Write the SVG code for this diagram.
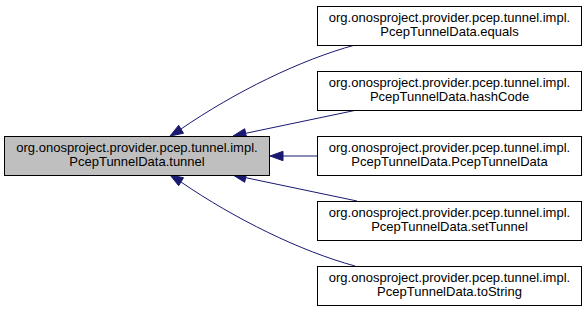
<svg xmlns="http://www.w3.org/2000/svg" width="587" height="312" viewBox="0 0 587 312">
  <style>
    .node rect { stroke: #000000; stroke-width: 1; }
    .plain rect { fill: #ffffff; }
    .focus rect { fill: #bfbfbf; }
    .node text { font-family: "Liberation Sans", Arial, Helvetica, sans-serif; font-size: 13px; fill: #000000; text-anchor: middle; }
    .edge path { fill: none; stroke: #191970; stroke-width: 1; }
    .edge polygon { fill: #191970; stroke: #191970; stroke-width: 1; }
  </style>
  <rect x="0" y="0" width="587" height="312" fill="#ffffff"/>

  <!-- called-by edges -->
  <g id="edges">
    <g class="edge" id="edge-equals">
      <path d="M355,45 C300,60 235,92 181,129"/>
      <polygon points="170,136 183.5,133.3 178.7,125.3"/>
    </g>
    <g class="edge" id="edge-hashCode">
      <path d="M357,110 L245.7,133.3"/>
      <polygon points="233,136 246.7,137.9 244.7,128.7"/>
    </g>
    <g class="edge" id="edge-ctor">
      <path d="M317,156 L283,156"/>
      <polygon points="270,156 283,151.3 283,160.7"/>
    </g>
    <g class="edge" id="edge-setTunnel">
      <path d="M357,201 L245.7,177.7"/>
      <polygon points="233,175 246.7,173.1 244.7,182.3"/>
    </g>
    <g class="edge" id="edge-toString">
      <path d="M355,266 C300,251 235,219 181,182"/>
      <polygon points="170,175 183.5,177.7 178.7,185.7"/>
    </g>
  </g>

  <!-- focus node -->
  <g class="node focus" id="node-tunnel">
    <rect x="4.5" y="136.5" width="265" height="39"/>
    <text x="137" y="152">org.onosproject.provider.pcep.tunnel.impl.</text>
    <text x="137" y="165.5">PcepTunnelData.tunnel</text>
  </g>

  <!-- callers -->
  <g class="node plain" id="node-equals">
    <rect x="317.5" y="6.5" width="264" height="39"/>
    <text x="449.5" y="22">org.onosproject.provider.pcep.tunnel.impl.</text>
    <text x="449.5" y="35.5">PcepTunnelData.equals</text>
  </g>
  <g class="node plain" id="node-hashCode">
    <rect x="317.5" y="71.5" width="264" height="39"/>
    <text x="449.5" y="87">org.onosproject.provider.pcep.tunnel.impl.</text>
    <text x="449.5" y="100.5">PcepTunnelData.hashCode</text>
  </g>
  <g class="node plain" id="node-PcepTunnelData">
    <rect x="317.5" y="136.5" width="264" height="39"/>
    <text x="449.5" y="152">org.onosproject.provider.pcep.tunnel.impl.</text>
    <text x="449.5" y="165.5">PcepTunnelData.PcepTunnelData</text>
  </g>
  <g class="node plain" id="node-setTunnel">
    <rect x="317.5" y="201.5" width="264" height="39"/>
    <text x="449.5" y="217">org.onosproject.provider.pcep.tunnel.impl.</text>
    <text x="449.5" y="230.5">PcepTunnelData.setTunnel</text>
  </g>
  <g class="node plain" id="node-toString">
    <rect x="317.5" y="266.5" width="264" height="39"/>
    <text x="449.5" y="282">org.onosproject.provider.pcep.tunnel.impl.</text>
    <text x="449.5" y="295.5">PcepTunnelData.toString</text>
  </g>
</svg>
